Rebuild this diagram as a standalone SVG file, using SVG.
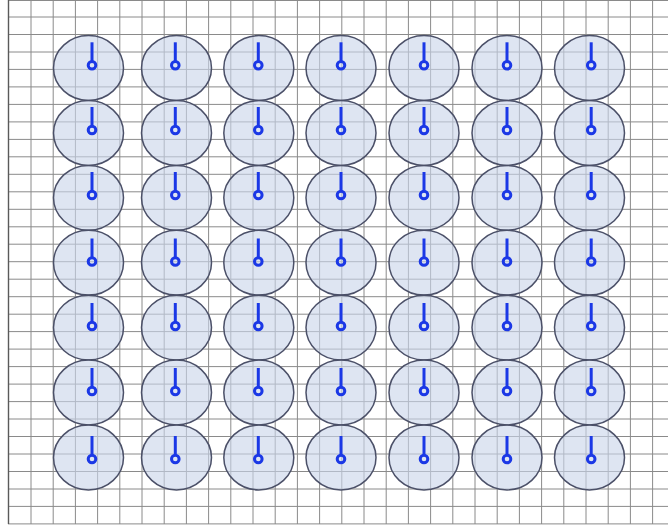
<svg xmlns="http://www.w3.org/2000/svg" width="668" height="529" viewBox="0 0 668 529">
<style>
.grid{stroke:#8a8a8a;stroke-width:1;fill:none}
.border{stroke:#5a5a5a;stroke-width:1.4;fill:none}
.n ellipse{fill:#c9d5ea;fill-opacity:0.62;stroke:#4b5068;stroke-width:1.5}
.n line,.n circle{stroke:#1b38e6;stroke-width:3;fill:none;stroke-linecap:butt}
</style>
<rect x="0" y="0" width="668" height="529" fill="#ffffff"/>
<g id="grid">
<path class="grid" d="M31,0V524M53.2,0V524M75.4,0V524M97.6,0V524M119.8,0V524M142,0V524M164.2,0V524M186.4,0V524M208.6,0V524M230.8,0V524M253,0V524M275.2,0V524M297.4,0V524M319.6,0V524M341.8,0V524M364,0V524M386.2,0V524M408.4,0V524M430.6,0V524M452.8,0V524M475,0V524M497.2,0V524M519.4,0V524M541.6,0V524M563.8,0V524M586,0V524M608.2,0V524M630.4,0V524M652.6,0V524"/>
<path class="grid" d="M8,0.5H668M8,17H668M8,34.5H668M8,52H668M8,69.4H668M8,86.9H668M8,104.4H668M8,121.9H668M8,139.4H668M8,156.8H668M8,174.3H668M8,191.8H668M8,209.3H668M8,226.8H668M8,244.2H668M8,261.7H668M8,279.2H668M8,296.7H668M8,314.2H668M8,331.6H668M8,349.1H668M8,366.6H668M8,384.1H668M8,401.6H668M8,419H668M8,436.5H668M8,454H668M8,471.5H668M8,489H668M8,506.4H668M8,523.9H668"/>
<path class="border" d="M8.5,0V524"/>
</g>
<g id="connectors"></g>
<g id="nodes">
<g id="n1-1" class="n"><ellipse cx="88.5" cy="68" rx="35" ry="32.4"/><line x1="92" y1="42.3" x2="92" y2="61.5"/><circle cx="92" cy="65.3" r="3.8"/></g>
<g id="n1-2" class="n"><ellipse cx="176.5" cy="68" rx="35" ry="32.4"/><line x1="175.3" y1="42.3" x2="175.3" y2="61.5"/><circle cx="175.3" cy="65.3" r="3.8"/></g>
<g id="n1-3" class="n"><ellipse cx="258.8" cy="68" rx="35" ry="32.4"/><line x1="258.3" y1="42.3" x2="258.3" y2="61.5"/><circle cx="258.3" cy="65.3" r="3.8"/></g>
<g id="n1-4" class="n"><ellipse cx="341" cy="68" rx="35" ry="32.4"/><line x1="341" y1="42.3" x2="341" y2="61.5"/><circle cx="341" cy="65.3" r="3.8"/></g>
<g id="n1-5" class="n"><ellipse cx="424" cy="68" rx="35" ry="32.4"/><line x1="424" y1="42.3" x2="424" y2="61.5"/><circle cx="424" cy="65.3" r="3.8"/></g>
<g id="n1-6" class="n"><ellipse cx="507" cy="68" rx="35" ry="32.4"/><line x1="507" y1="42.3" x2="507" y2="61.5"/><circle cx="507" cy="65.3" r="3.8"/></g>
<g id="n1-7" class="n"><ellipse cx="589.5" cy="68" rx="35" ry="32.4"/><line x1="591.2" y1="42.3" x2="591.2" y2="61.5"/><circle cx="591.2" cy="65.3" r="3.8"/></g>

<g id="n2-1" class="n"><ellipse cx="88.5" cy="133" rx="35" ry="32.4"/><line x1="92" y1="107" x2="92" y2="126.2"/><circle cx="92" cy="130" r="3.8"/></g>
<g id="n2-2" class="n"><ellipse cx="176.5" cy="133" rx="35" ry="32.4"/><line x1="175.3" y1="107" x2="175.3" y2="126.2"/><circle cx="175.3" cy="130" r="3.8"/></g>
<g id="n2-3" class="n"><ellipse cx="258.8" cy="133" rx="35" ry="32.4"/><line x1="258.3" y1="107" x2="258.3" y2="126.2"/><circle cx="258.3" cy="130" r="3.8"/></g>
<g id="n2-4" class="n"><ellipse cx="341" cy="133" rx="35" ry="32.4"/><line x1="341" y1="107" x2="341" y2="126.2"/><circle cx="341" cy="130" r="3.8"/></g>
<g id="n2-5" class="n"><ellipse cx="424" cy="133" rx="35" ry="32.4"/><line x1="424" y1="107" x2="424" y2="126.2"/><circle cx="424" cy="130" r="3.8"/></g>
<g id="n2-6" class="n"><ellipse cx="507" cy="133" rx="35" ry="32.4"/><line x1="507" y1="107" x2="507" y2="126.2"/><circle cx="507" cy="130" r="3.8"/></g>
<g id="n2-7" class="n"><ellipse cx="589.5" cy="133" rx="35" ry="32.4"/><line x1="591.2" y1="107" x2="591.2" y2="126.2"/><circle cx="591.2" cy="130" r="3.8"/></g>

<g id="n3-1" class="n"><ellipse cx="88.5" cy="197.8" rx="35" ry="32.4"/><line x1="92" y1="172" x2="92" y2="191.2"/><circle cx="92" cy="195" r="3.8"/></g>
<g id="n3-2" class="n"><ellipse cx="176.5" cy="197.8" rx="35" ry="32.4"/><line x1="175.3" y1="172" x2="175.3" y2="191.2"/><circle cx="175.3" cy="195" r="3.8"/></g>
<g id="n3-3" class="n"><ellipse cx="258.8" cy="197.8" rx="35" ry="32.4"/><line x1="258.3" y1="172" x2="258.3" y2="191.2"/><circle cx="258.3" cy="195" r="3.8"/></g>
<g id="n3-4" class="n"><ellipse cx="341" cy="197.8" rx="35" ry="32.4"/><line x1="341" y1="172" x2="341" y2="191.2"/><circle cx="341" cy="195" r="3.8"/></g>
<g id="n3-5" class="n"><ellipse cx="424" cy="197.8" rx="35" ry="32.4"/><line x1="424" y1="172" x2="424" y2="191.2"/><circle cx="424" cy="195" r="3.8"/></g>
<g id="n3-6" class="n"><ellipse cx="507" cy="197.8" rx="35" ry="32.4"/><line x1="507" y1="172" x2="507" y2="191.2"/><circle cx="507" cy="195" r="3.8"/></g>
<g id="n3-7" class="n"><ellipse cx="589.5" cy="197.8" rx="35" ry="32.4"/><line x1="591.2" y1="172" x2="591.2" y2="191.2"/><circle cx="591.2" cy="195" r="3.8"/></g>

<g id="n4-1" class="n"><ellipse cx="88.5" cy="262.7" rx="35" ry="32.4"/><line x1="92" y1="238.5" x2="92" y2="257.7"/><circle cx="92" cy="261.5" r="3.8"/></g>
<g id="n4-2" class="n"><ellipse cx="176.5" cy="262.7" rx="35" ry="32.4"/><line x1="175.3" y1="238.5" x2="175.3" y2="257.7"/><circle cx="175.3" cy="261.5" r="3.8"/></g>
<g id="n4-3" class="n"><ellipse cx="258.8" cy="262.7" rx="35" ry="32.4"/><line x1="258.3" y1="238.5" x2="258.3" y2="257.7"/><circle cx="258.3" cy="261.5" r="3.8"/></g>
<g id="n4-4" class="n"><ellipse cx="341" cy="262.7" rx="35" ry="32.4"/><line x1="341" y1="238.5" x2="341" y2="257.7"/><circle cx="341" cy="261.5" r="3.8"/></g>
<g id="n4-5" class="n"><ellipse cx="424" cy="262.7" rx="35" ry="32.4"/><line x1="424" y1="238.5" x2="424" y2="257.7"/><circle cx="424" cy="261.5" r="3.8"/></g>
<g id="n4-6" class="n"><ellipse cx="507" cy="262.7" rx="35" ry="32.4"/><line x1="507" y1="238.5" x2="507" y2="257.7"/><circle cx="507" cy="261.5" r="3.8"/></g>
<g id="n4-7" class="n"><ellipse cx="589.5" cy="262.7" rx="35" ry="32.4"/><line x1="591.2" y1="238.5" x2="591.2" y2="257.7"/><circle cx="591.2" cy="261.5" r="3.8"/></g>

<g id="n5-1" class="n"><ellipse cx="88.5" cy="327.6" rx="35" ry="32.4"/><line x1="92" y1="303" x2="92" y2="322.2"/><circle cx="92" cy="326" r="3.8"/></g>
<g id="n5-2" class="n"><ellipse cx="176.5" cy="327.6" rx="35" ry="32.4"/><line x1="175.3" y1="303" x2="175.3" y2="322.2"/><circle cx="175.3" cy="326" r="3.8"/></g>
<g id="n5-3" class="n"><ellipse cx="258.8" cy="327.6" rx="35" ry="32.4"/><line x1="258.3" y1="303" x2="258.3" y2="322.2"/><circle cx="258.3" cy="326" r="3.8"/></g>
<g id="n5-4" class="n"><ellipse cx="341" cy="327.6" rx="35" ry="32.4"/><line x1="341" y1="303" x2="341" y2="322.2"/><circle cx="341" cy="326" r="3.8"/></g>
<g id="n5-5" class="n"><ellipse cx="424" cy="327.6" rx="35" ry="32.4"/><line x1="424" y1="303" x2="424" y2="322.2"/><circle cx="424" cy="326" r="3.8"/></g>
<g id="n5-6" class="n"><ellipse cx="507" cy="327.6" rx="35" ry="32.4"/><line x1="507" y1="303" x2="507" y2="322.2"/><circle cx="507" cy="326" r="3.8"/></g>
<g id="n5-7" class="n"><ellipse cx="589.5" cy="327.6" rx="35" ry="32.4"/><line x1="591.2" y1="303" x2="591.2" y2="322.2"/><circle cx="591.2" cy="326" r="3.8"/></g>

<g id="n6-1" class="n"><ellipse cx="88.5" cy="392.5" rx="35" ry="32.4"/><line x1="92" y1="368" x2="92" y2="387.2"/><circle cx="92" cy="391" r="3.8"/></g>
<g id="n6-2" class="n"><ellipse cx="176.5" cy="392.5" rx="35" ry="32.4"/><line x1="175.3" y1="368" x2="175.3" y2="387.2"/><circle cx="175.3" cy="391" r="3.8"/></g>
<g id="n6-3" class="n"><ellipse cx="258.8" cy="392.5" rx="35" ry="32.4"/><line x1="258.3" y1="368" x2="258.3" y2="387.2"/><circle cx="258.3" cy="391" r="3.8"/></g>
<g id="n6-4" class="n"><ellipse cx="341" cy="392.5" rx="35" ry="32.4"/><line x1="341" y1="368" x2="341" y2="387.2"/><circle cx="341" cy="391" r="3.8"/></g>
<g id="n6-5" class="n"><ellipse cx="424" cy="392.5" rx="35" ry="32.4"/><line x1="424" y1="368" x2="424" y2="387.2"/><circle cx="424" cy="391" r="3.8"/></g>
<g id="n6-6" class="n"><ellipse cx="507" cy="392.5" rx="35" ry="32.4"/><line x1="507" y1="368" x2="507" y2="387.2"/><circle cx="507" cy="391" r="3.8"/></g>
<g id="n6-7" class="n"><ellipse cx="589.5" cy="392.5" rx="35" ry="32.4"/><line x1="591.2" y1="368" x2="591.2" y2="387.2"/><circle cx="591.2" cy="391" r="3.8"/></g>

<g id="n7-1" class="n"><ellipse cx="88.5" cy="457.5" rx="35" ry="32.4"/><line x1="92" y1="436" x2="92" y2="455.2"/><circle cx="92" cy="459" r="3.8"/></g>
<g id="n7-2" class="n"><ellipse cx="176.5" cy="457.5" rx="35" ry="32.4"/><line x1="175.3" y1="436" x2="175.3" y2="455.2"/><circle cx="175.3" cy="459" r="3.8"/></g>
<g id="n7-3" class="n"><ellipse cx="258.8" cy="457.5" rx="35" ry="32.4"/><line x1="258.3" y1="436" x2="258.3" y2="455.2"/><circle cx="258.3" cy="459" r="3.8"/></g>
<g id="n7-4" class="n"><ellipse cx="341" cy="457.5" rx="35" ry="32.4"/><line x1="341" y1="436" x2="341" y2="455.2"/><circle cx="341" cy="459" r="3.8"/></g>
<g id="n7-5" class="n"><ellipse cx="424" cy="457.5" rx="35" ry="32.4"/><line x1="424" y1="436" x2="424" y2="455.2"/><circle cx="424" cy="459" r="3.8"/></g>
<g id="n7-6" class="n"><ellipse cx="507" cy="457.5" rx="35" ry="32.4"/><line x1="507" y1="436" x2="507" y2="455.2"/><circle cx="507" cy="459" r="3.8"/></g>
<g id="n7-7" class="n"><ellipse cx="589.5" cy="457.5" rx="35" ry="32.4"/><line x1="591.2" y1="436" x2="591.2" y2="455.2"/><circle cx="591.2" cy="459" r="3.8"/></g>
</g>
</svg>
